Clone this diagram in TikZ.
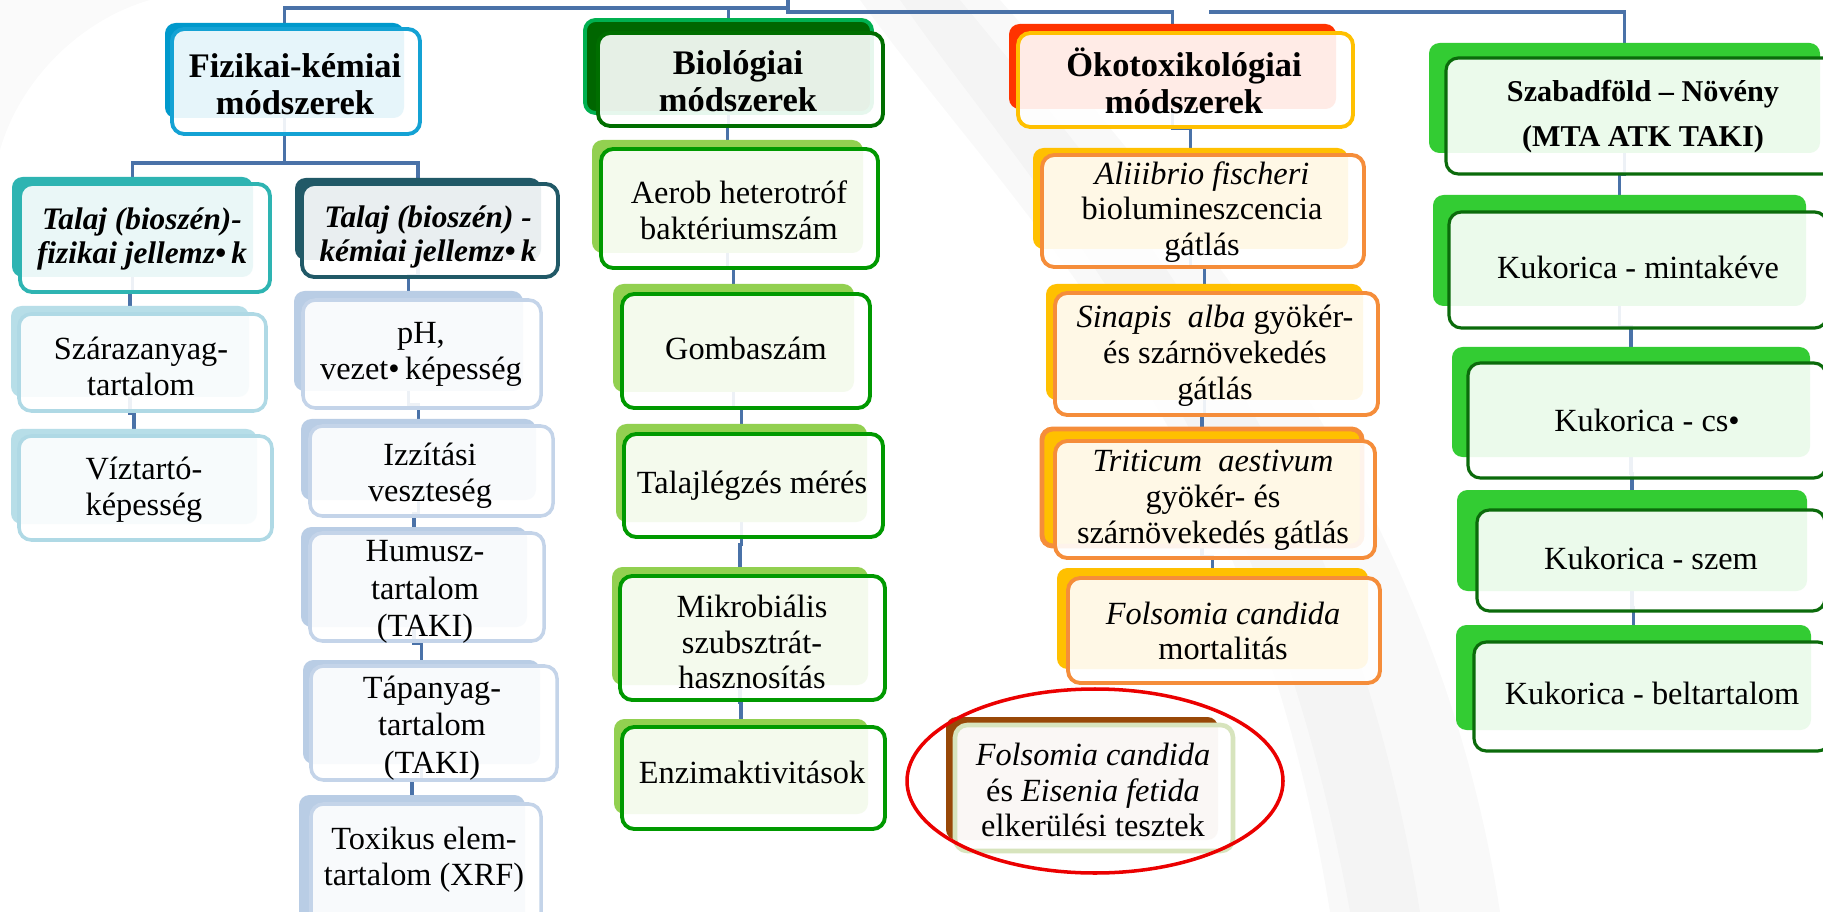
\documentclass[tikz,border=0pt]{standalone}
\usepackage{fontspec}
\setmainfont{Liberation Serif}
\usetikzlibrary{fit,calc,shapes.geometric}
\definecolor{connc}{HTML}{4A72A8}
\definecolor{fizback}{HTML}{0099CC}
\definecolor{fizline}{HTML}{14A2D4}
\definecolor{tealc}{HTML}{2EB4B2}
\definecolor{darkteal}{HTML}{215967}
\definecolor{lightblue}{HTML}{B7DEE8}
\definecolor{lightblueline}{HTML}{AFD9E5}
\definecolor{steelb}{HTML}{B9CDE5}
\definecolor{steelline}{HTML}{C4D4E9}
\definecolor{biodark}{HTML}{006600}
\definecolor{bioedge}{HTML}{00B050}
\definecolor{bioline}{HTML}{006E00}
\definecolor{limeg}{HTML}{92D050}
\definecolor{greenline}{HTML}{009900}
\definecolor{redback}{HTML}{FF3300}
\definecolor{amber}{HTML}{FFC000}
\definecolor{orangeline}{HTML}{F58D3A}
\definecolor{brownback}{HTML}{984807}
\definecolor{palegreen}{HTML}{D7E4BD}
\definecolor{brightg}{HTML}{33CC33}
\definecolor{forest}{HTML}{0B6B0B}
\definecolor{ringred}{HTML}{EB0000}
\pgfdeclarelayer{bg0}
\pgfdeclarelayer{bg}
\pgfsetlayers{bg0,bg,main}
\newcommand\bodyf{\fontsize{9.2}{10.2}\selectfont}
\newcommand\headf{\fontsize{9.8}{10.6}\selectfont\bfseries}
\newcommand\talf{\fontsize{8.9}{9.5}\selectfont\bfseries\itshape}
\newcommand\szf{\fontsize{8.6}{12.8}\selectfont\bfseries}
\begin{document}
\begin{tikzpicture}[x=0.1mm,y=-0.1mm,
  conn/.style={draw=connc, line width=1.1pt},
  jog/.style={to path={|- ($(\tikztostart)!0.5!(\tikztotarget)$) -| (\tikztotarget)}},
  bk/.style={rounded corners=3pt, inner sep=0pt, outer sep=0pt},
  fr/.style={rounded corners=3.5pt, inner sep=0pt, outer sep=0pt, fill=white,
    fill opacity=0.9, line width=1.1pt},
  tx/.style={align=center, inner sep=0pt, font=\bodyf},
  hd/.style={tx, font=\headf},
  fizB/.style={bk, fill=fizback},
  fizF/.style={fr, draw=fizline},
  tfizB/.style={bk, fill=tealc},
  tfizF/.style={fr, draw=tealc},
  tkemB/.style={bk, fill=darkteal},
  tkemF/.style={fr, draw=darkteal},
  lbB/.style={bk, fill=lightblue},
  lbF/.style={fr, draw=lightblueline, line width=1pt},
  stB/.style={bk, fill=steelb},
  stF/.style={fr, draw=steelline, line width=1pt},
  bioB/.style={bk, fill=biodark, draw=bioedge, line width=1.1pt},
  bioF/.style={fr, draw=bioline},
  grB/.style={bk, fill=limeg},
  grF/.style={fr, draw=greenline},
  ekoB/.style={bk, fill=redback},
  ekoF/.style={fr, draw=amber},
  amB/.style={bk, fill=amber},
  amF/.style={fr, draw=orangeline},
  eisB/.style={bk, fill=brownback},
  eisF/.style={fr, draw=palegreen, fill opacity=0.96, line width=1.3pt},
  szB/.style={bk, fill=brightg},
  szF/.style={fr, draw=forest, line width=0.9pt},
]
\useasboundingbox (0,0) rectangle (1823,912);
\clip (0,0) rectangle (1823,912);
\begin{pgfonlayer}{bg0}
\fill[white] (0,0) rectangle (1823,912);
\fill[black, opacity=0.022] (860,0) .. controls (1020,220) and (1250,420) .. (1330,912)
   -- (1500,912) .. controls (1440,520) and (1220,250) .. (1000,0) -- cycle;
\fill[black, opacity=0.018] (900,0) .. controls (1040,200) and (1260,420) .. (1350,912)
   -- (1420,912) .. controls (1350,480) and (1150,230) .. (960,0) -- cycle;
\fill[black, opacity=0.02] (0,150) .. controls (20,80) and (80,20) .. (150,0) -- (0,0) -- cycle;
\end{pgfonlayer}

% ---------- Fizikai-kémiai
\node[fizB, fit={(165,23) (404,118)}] (fizB) {};
\node[fizF, fit={(172,29) (420,134)}] (fiz) {};
\node[hd] (fizT) at (295,84) {Fizikai-kémiai\\módszerek};
\node[tfizB, fit={(12,177) (253,277)}] (tfizB) {};
\node[tfizF, fit={(20,184) (270,292)}] (tfiz) {};
\node[tx, font=\talf] (tfizT) at (142,239) {Talaj (bioszén)-\\fizikai jellemz•\,k};
\node[tkemB, fit={(295,178) (541,260)}] (tkemB) {};
\node[tkemF, fit={(302,184) (558,277)}] (tkem) {};
\node[tx, font=\talf] (tkemT) at (428,237) {Talaj (bioszén) -\\kémiai jellemz•\,k};

\node[lbB, fit={(11,306) (249,397)}] (szarB) {};
\node[lbF, fit={(19,314) (266,411)}] (szar) {};
\node[tx] (szarT) at (141,366) {Szárazanyag-\\tartalom};
\node[lbB, fit={(11,429) (257,524)}] (vizB) {};
\node[lbF, fit={(19,436) (272,540)}] (viz) {};
\node[tx] (vizT) at (144,490) {Víztartó-\\képesség};

\node[stB, fit={(294,291) (523,391)}] (phB) {};
\node[stF, fit={(303,300) (541,408)}] (ph) {};
\node[tx] (phT) at (421,354) {pH,\\vezet•\,képesség};
\node[stB, fit={(301,419) (536,500)}] (izzB) {};
\node[stF, fit={(310,426) (553,516)}] (izz) {};
\node[tx] (izzT) at (430,476) {Izzítási\\veszteség};
\node[stB, fit={(301,527) (527,627)}] (humB) {};
\node[stF, fit={(310,533) (544,641)}] (hum) {};
\node[tx, font=\fontsize{9.2}{10.7}\selectfont] (humT) at (425,592) {Humusz-\\tartalom\\(TAKI)};
\node[stB, fit={(303,660) (540,764)}] (tapB) {};
\node[stF, fit={(311,666) (557,780)}] (tap) {};
\node[tx, font=\fontsize{9.2}{10.7}\selectfont] (tapT) at (432,728) {Tápanyag-\\tartalom\\(TAKI)};
\node[stB, fit={(299,795) (525,930)}] (toxB) {};
\node[stF, fit={(311,804) (541,940)}] (tox) {};
\node[tx] (toxT) at (424,860) {Toxikus elem-\\tartalom (XRF)};

% ---------- Biológiai
\node[bioB, fit={(585,20) (872,113)}] (bioB) {};
\node[bioF, fit={(598,33) (883,126)}] (bio) {};
\node[hd] (bioT) at (738,81) {Biológiai\\módszerek};
\node[grB, fit={(592,140) (863,253)}] (aerB) {};
\node[grF, fit={(601,149) (878,268)}] (aer) {};
\node[tx] (aerT) at (739,210) {Aerob heterotróf\\baktériumszám};
\node[grB, fit={(613,284) (854,392)}] (gomB) {};
\node[grF, fit={(622,294) (870,408)}] (gom) {};
\node[tx] (gomT) at (746,348) {Gombaszám};
\node[grB, fit={(616,424) (867,522)}] (talB) {};
\node[grF, fit={(624,434) (883,537)}] (tal) {};
\node[tx] (talT) at (752,486) {Talajlégzés mérés};
\node[grB, fit={(612,567) (868,685)}] (mikB) {};
\node[grF, fit={(620,576) (885,700)}] (mik) {};
\node[tx] (mikT) at (752,642) {Mikrobiális\\szubsztrát-\\hasznosítás};
\node[grB, fit={(614,719) (868,814)}] (enzB) {};
\node[grF, fit={(622,727) (885,829)}] (enz) {};
\node[tx] (enzT) at (752,772) {Enzimaktivitások};

% ---------- Ökotoxikológiai
\node[ekoB, fit={(1009,24) (1336,109)}] (ekoB) {};
\node[ekoF, fit={(1018,33) (1353,127)}] (eko) {};
\node[hd] (ekoT) at (1184,81) {Ökotoxikológiai\\módszerek};
\node[amB, fit={(1033,148) (1348,249)}] (aliB) {};
\node[amF, fit={(1042,155) (1364,267)}] (ali) {};
\node[tx] (aliT) at (1202,212) {\textit{Aliiibrio fischeri}\\biolumineszcencia\\gátlás};
\node[amB, fit={(1046,284) (1363,400)}] (sinB) {};
\node[amF, fit={(1055,293) (1378,415)}] (sin) {};
\node[tx] (sinT) at (1215,356) {\textit{Sinapis\ \ alba} gyökér-\\és szárnövekedés\\gátlás};
\node[amB, draw=orangeline, line width=1.4pt, fit={(1042,429) (1362,546)}] (triB) {};
\node[amF, fit={(1055,441) (1375,558)}] (tri) {};
\node[tx] (triT) at (1213,500) {\textit{Triticum\ \ aestivum}\\gyökér- és\\szárnövekedés gátlás};
\node[amB, fit={(1057,568) (1368,669)}] (folB) {};
\node[amF, fit={(1068,578) (1380,683)}] (fol) {};
\node[tx] (folT) at (1223,631) {\textit{Folsomia candida}\\mortalitás};
\node[eisB, fit={(946,717) (1218,840)}] (eisB) {};
\node[eisF, fit={(955,725) (1233,851)}] (eis) {};
\node[tx] (eisT) at (1093,790) {\textit{Folsomia candida}\\és \textit{Eisenia fetida}\\elkerülési tesztek};
\node[draw=ringred, line width=1pt, ellipse, minimum width=37.6mm, minimum height=18.4mm, inner sep=0pt] (ring) at (1095,781) {};

% ---------- Szabadföld
\node[szB, fit={(1429,43) (1820,153)}] (szB) {};
\node[szF, fit={(1446,58) (1840,174)}] (sz) {};
\node[tx, font=\szf] (szT) at (1643,117) {Szabadföld -- Növény\\(MTA ATK TAKI)};
\node[szB, fit={(1433,195) (1806,306)}] (k1B) {};
\node[szF, fit={(1449,212) (1827,328)}] (k1) {};
\node[tx] (k1T) at (1638,267) {Kukorica - mintakéve};
\node[szB, fit={(1452,347) (1810,457)}] (k2B) {};
\node[szF, fit={(1468,363) (1826,478)}] (k2) {};
\node[tx] (k2T) at (1647,420) {Kukorica - cs•};
\node[szB, fit={(1457,490) (1807,591)}] (k3B) {};
\node[szF, fit={(1477,510) (1825,611)}] (k3) {};
\node[tx] (k3T) at (1651,558) {Kukorica - szem};
\node[szB, fit={(1456,625) (1811,730)}] (k4B) {};
\node[szF, fit={(1474,642) (1830,751)}] (k4) {};
\node[tx] (k4T) at (1652,693) {Kukorica - beltartalom};

% ---------- connectors
\coordinate (root) at (788,-5);
\coordinate (hubL) at (788,8);
\coordinate (hubR) at (788,12);
\coordinate (seg) at (1209,12);
\begin{pgfonlayer}{bg}
\draw[conn] (root) -- (hubR) -| (ekoB.north);
\draw[conn] (hubL) -| (fizB.north);
\draw[conn] (hubL) -| (bioB.north);
\draw[conn] (seg) -| (szB.north);
\draw[conn] (fizB.south) -- ++(0,45) -| (tfizB.north);
\draw[conn] (fizB.south) -- ++(0,45) -| (tkemB.north);
\draw[conn] (tfizB.south) to[jog] (szarB.north);
\draw[conn] (szarB.south) to[jog] (vizB.north);
\draw[conn] (tkemB.south) to[jog] (phB.north);
\draw[conn] (phB.south) to[jog] (izzB.north);
\draw[conn] (izzB.south) to[jog] (humB.north);
\draw[conn] (humB.south) to[jog] (tapB.north);
\draw[conn] (tapB.south) to[jog] (toxB.north);
\draw[conn] (bioB.south) to[jog] (aerB.north);
\draw[conn] (aerB.south) to[jog] (gomB.north);
\draw[conn] (gomB.south) to[jog] (talB.north);
\draw[conn] (talB.south) to[jog] (mikB.north);
\draw[conn] (mikB.south) to[jog] (enzB.north);
\draw[conn] (ekoB.south) to[jog] (aliB.north);
\draw[conn] (aliB.south) to[jog] (sinB.north);
\draw[conn] (sinB.south) to[jog] (triB.north);
\draw[conn] (triB.south) to[jog] (folB.north);
\draw[conn] (szB.south) to[jog] (k1B.north);
\draw[conn] (k1B.south) to[jog] (k2B.north);
\draw[conn] (k2B.south) to[jog] (k3B.north);
\draw[conn] (k3B.south) to[jog] (k4B.north);
\end{pgfonlayer}
\end{tikzpicture}
\end{document}
